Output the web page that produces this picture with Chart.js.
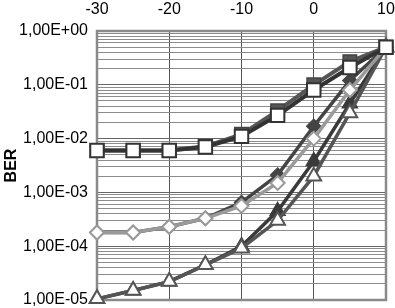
<!DOCTYPE html>
<html>
<head>
<meta charset="utf-8">
<script src="https://cdn.jsdelivr.net/npm/chart.js@4.4.0/dist/chart.umd.min.js"></script>
<style>
  html, body { margin: 0; padding: 0; background: #fff; }
  #wrap { width: 395px; height: 308px; }
</style>
</head>
<body>
<div id="wrap"><canvas id="berChart" width="395" height="308"></canvas></div>
<script>
// x values (dB)
var snr = [-30, -25, -20, -15, -10, -5, 0, 5, 10];

// BER curves
var squaresDark  = [0.006, 0.006, 0.006, 0.0072, 0.012, 0.033, 0.1, 0.27, 0.5];
var squaresWhite = [0.006, 0.006, 0.006, 0.0070, 0.011, 0.027, 0.08, 0.21, 0.5];
var diamondsDark  = [0.00018, 0.00018, 0.00023, 0.00033, 0.00065, 0.0021, 0.017, 0.12, 0.5];
var diamondsLight = [0.00018, 0.00018, 0.00023, 0.00033, 0.00056, 0.0015, 0.010, 0.08, 0.5];
var trianglesDark  = [0.0000105, 0.000015, 0.000022, 0.000045, 0.0001, 0.00045, 0.0038, 0.045, 0.5];
var trianglesWhite = [0.0000105, 0.000015, 0.000022, 0.000045, 0.000092, 0.0003, 0.002, 0.03, 0.5];

// axis ticks
var xTicks = [-30, -20, -10, 0, 10];
var decades = [-5, -4, -3, -2, -1, 0];

function pts(vals) {
    var out = [];
    for (var i = 0; i < snr.length; i++) {
        out.push({ x: snr[i], y: vals[i] });
    }
    return out;
}

function fmtE(v) {
    var e = Math.round(Math.log10(v));
    var s = e < 0 ? '-' : '+';
    var a = Math.abs(e);
    return '1,00E' + s + (a < 10 ? '0' : '') + a;
}

function isDecade(v) {
    var l = Math.log10(v);
    return Math.abs(l - Math.round(l)) < 1e-6;
}

// gray frame round the plot area
var frame = {
    id: 'frame',
    beforeDatasetsDraw: function (chart) {
        var a = chart.chartArea;
        var ctx = chart.ctx;
        ctx.save();
        ctx.strokeStyle = '#8a8a8a';
        ctx.lineWidth = 2.5;
        ctx.strokeRect(a.left, a.top, a.right - a.left, a.bottom - a.top);
        ctx.restore();
    }
};

// first dataset is drawn on top
const ctx = document.getElementById('berChart').getContext('2d');
const myChart = new Chart(ctx, {
    type: 'line',
    data: {
        datasets: [{
            label: 'sq white',
            data: pts(squaresWhite),
            borderColor: '#333333',
            borderWidth: 4,
            pointStyle: 'rect',
            pointRadius: 9.5,
            pointBackgroundColor: '#ffffff',
            pointBorderColor: '#333333',
            pointBorderWidth: 2,
            clip: false,
            fill: false
        },
        {
            label: 'sq dark',
            data: pts(squaresDark),
            borderColor: '#555555',
            borderWidth: 4,
            pointStyle: 'rect',
            pointRadius: 9.5,
            pointBackgroundColor: '#555555',
            pointBorderColor: '#444444',
            pointBorderWidth: 1.5,
            clip: false,
            fill: false
        },
        {
            label: 'dia light',
            data: pts(diamondsLight),
            borderColor: '#9a9a9a',
            borderWidth: 3.5,
            pointStyle: 'rectRot',
            pointRadius: 7,
            pointBackgroundColor: '#ffffff',
            pointBorderColor: '#999999',
            pointBorderWidth: 2,
            clip: false,
            fill: false
        },
        {
            label: 'tri white',
            data: pts(trianglesWhite),
            borderColor: '#555555',
            borderWidth: 3.5,
            pointStyle: 'triangle',
            pointRadius: 8.5,
            pointBackgroundColor: '#ffffff',
            pointBorderColor: '#555555',
            pointBorderWidth: 2,
            clip: false,
            fill: false
        },
        {
            label: 'dia dark',
            data: pts(diamondsDark),
            borderColor: '#444444',
            borderWidth: 3.5,
            pointStyle: 'rectRot',
            pointRadius: 7,
            pointBackgroundColor: '#444444',
            pointBorderColor: '#444444',
            pointBorderWidth: 1.5,
            clip: false,
            fill: false
        },
        {
            label: 'tri dark',
            data: pts(trianglesDark),
            borderColor: '#3a3a3a',
            borderWidth: 3.5,
            pointStyle: 'triangle',
            pointRadius: 8.5,
            pointBackgroundColor: '#3a3a3a',
            pointBorderColor: '#3a3a3a',
            pointBorderWidth: 1.5,
            clip: false,
            fill: false
        }
        ]
    },
    options: {
        responsive: false,
        animation: false,
        layout: { autoPadding: false, padding: { left: 0, right: 9, top: 0, bottom: 8 } },
        plugins: {
            legend: { display: false },
            tooltip: { enabled: false }
        },
        elements: { line: { tension: 0 } },
        scales: {
            x: {
                type: 'linear',
                position: 'top',
                min: -30,
                max: 10,
                afterBuildTicks: function (scale) {
                    scale.ticks = xTicks.map(function (v) { return { value: v }; });
                },
                afterFit: function (scale) {
                    scale.height = 31;
                    scale.paddingLeft = 0;
                    scale.paddingRight = 0;
                },
                ticks: {
                    color: '#000',
                    padding: 12,
                    maxRotation: 0,
                    font: { family: 'Liberation Sans', size: 16 }
                },
                grid: { color: '#555555', lineWidth: 1, drawTicks: false },
                border: { display: false }
            },
            y: {
                type: 'logarithmic',
                min: 1e-5,
                max: 1,
                afterBuildTicks: function (scale) {
                    var t = [];
                    for (var i = 0; i < decades.length; i++) {
                        var p = Math.pow(10, decades[i]);
                        t.push({ value: p, major: true });
                        if (i < decades.length - 1) {
                            for (var k = 2; k <= 9; k++) t.push({ value: k * p });
                        }
                    }
                    scale.ticks = t;
                },
                afterFit: function (scale) {
                    scale.width = 97;
                    scale.paddingTop = 0;
                    scale.paddingBottom = 0;
                },
                ticks: {
                    autoSkip: false,
                    color: '#000',
                    padding: 9,
                    font: { family: 'Liberation Sans', size: 16 },
                    callback: function (v) { return isDecade(v) ? fmtE(v) : ''; }
                },
                title: {
                    display: true,
                    text: 'BER',
                    color: '#000',
                    padding: { top: 2, bottom: 0 },
                    font: { family: 'Liberation Sans', size: 16, weight: 'bold' }
                },
                grid: {
                    color: function (c) { return isDecade(c.tick.value) ? '#666666' : '#8c8c8c'; },
                    lineWidth: 1,
                    drawTicks: false
                },
                border: { display: false }
            }
        }
    },
    plugins: [frame]
});
</script>
</body>
</html>
